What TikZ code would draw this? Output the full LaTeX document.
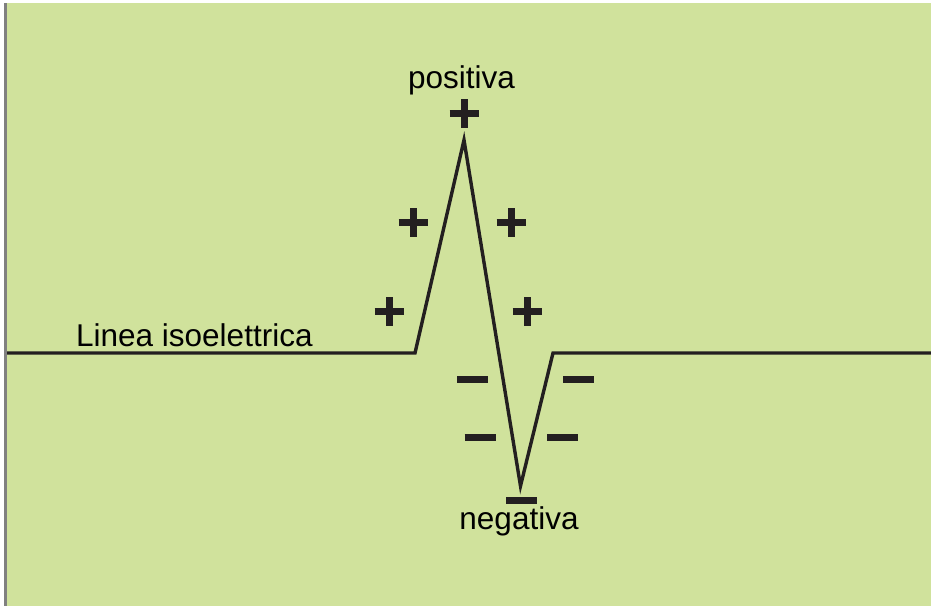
\documentclass[tikz,border=0pt]{standalone}
\usepackage{fontspec}
\setmainfont{Liberation Sans}
\definecolor{bggreen}{HTML}{D0E29C}
\definecolor{ink}{HTML}{231F20}
\definecolor{edgegray}{HTML}{808080}
\begin{document}
\begin{tikzpicture}[x=1pt,y=-1pt,
  wave/.style={draw=ink,line width=3.4pt,line join=miter},
  plussign/.style={draw=ink,line width=7pt},
  lbl/.style={anchor=base,inner sep=0pt,text=black,font=\fontsize{31.5}{36}\selectfont}]
\useasboundingbox (0,0) rectangle (931,606);
\fill[white] (0,0) rectangle (931,606);
\fill[bggreen] (7,3) rectangle (931,606);
\fill[edgegray] (4.3,3) rectangle (7,606);
% waveform corners
\coordinate (start) at (7,353);
\coordinate (rise) at (415,353);
\coordinate (peak) at (464,140);
\coordinate (trough) at (520.5,486);
\coordinate (back) at (553,353);
\coordinate (finish) at (931,353);
\draw[wave] (start) -- (rise) -- (peak) -- (trough) -- (back) -- (finish);
% plus signs
\foreach \n/\cx/\cy in {p1/464/113, p2/413/222, p3/511/222, p4/389/311, p5/527/311}{
  \coordinate (\n) at (\cx,\cy);
  \draw[plussign] ([xshift=-14.5pt]\n) -- ([xshift=14.5pt]\n);
  \draw[plussign] ([yshift=-14.5pt]\n) -- ([yshift=14.5pt]\n);
}
% minus signs
\foreach \n/\cx/\cy in {m1/472.5/379, m2/578.5/379, m3/480/437, m4/562.5/437, m5/521.5/500}{
  \coordinate (\n) at (\cx,\cy);
  \draw[plussign] ([xshift=-15.5pt]\n) -- ([xshift=15.5pt]\n);
}
% labels
\node[lbl,anchor=base west] (iso) at (76,346) {Linea isoelettrica};
\node[lbl] (pos) at (461.5,88) {positiva};
\node[lbl] (neg) at (519,529) {negativa};
\end{tikzpicture}
\end{document}
